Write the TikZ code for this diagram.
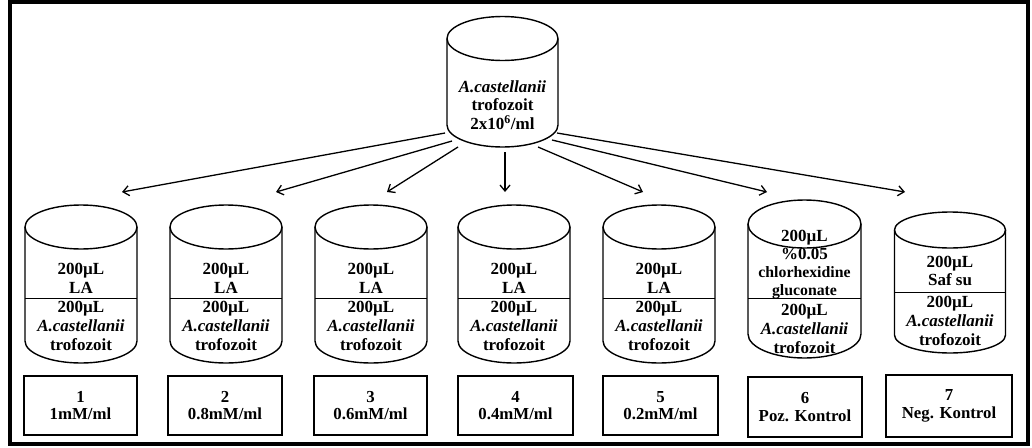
\documentclass[tikz,border=0pt]{standalone}
\usepackage{fontspec}
\setmainfont{Liberation Serif}
\usetikzlibrary{arrows.meta}
\newcommand\cylshape[5]{% cx, top-ellipse cy, bottom-ellipse cy, rx, ry
  \draw[cylline] (#1,#2) ellipse [x radius=#4pt, y radius=#5pt];
  \draw[cylline] (#1-#4,#2) -- (#1-#4,#3)
     arc[start angle=180, end angle=360, x radius=#4pt, y radius=#5pt] -- (#1+#4,#2);
}
\begin{document}
\begin{tikzpicture}[x=1pt,y=-1pt,
  cylline/.style={line width=1.4pt},
  txt/.style={font=\fontsize{17}{18.8}\selectfont\bfseries, align=center, inner sep=0pt},
  smalltxt/.style={font=\fontsize{15.8}{18}\selectfont\bfseries, align=center, inner sep=0pt},
  boxst/.style={draw, line width=1.4pt, font=\fontsize{16.8}{17.5}\selectfont\bfseries, align=center, inner sep=0pt, minimum height=59pt},
  arr/.style={line width=1.3pt, -{Straight Barb[length=6pt,width=10pt]}}]
\useasboundingbox (0,0) rectangle (1032,447);
\fill[white] (0,0) rectangle (1032,447);
\draw[line width=4.5pt] (10,2.2) rectangle (1028,444);

% top cylinder
\cylshape{502.5}{38.5}{125}{55.5}{22}
\node[txt] (top) at (502.5,105) {\textit{A.castellanii}\\trofozoit\\2x10\textsuperscript{6}/ml};

% bottom cylinders 1-5
\foreach \cx in {81,226,371,514,659}{
  \cylshape{\cx}{227}{341}{56}{22}
  \draw[line width=1pt] (\cx-56,298) -- (\cx+56,298);
}
\node[txt] (u1) at (81,278.5) {200µL\\LA};
\node[txt] (l1) at (81,326) {200µL\\\textit{A.castellanii}\\trofozoit};
\node[txt] (u2) at (226,278.5) {200µL\\LA};
\node[txt] (l2) at (226,326) {200µL\\\textit{A.castellanii}\\trofozoit};
\node[txt] (u3) at (371,278.5) {200µL\\LA};
\node[txt] (l3) at (371,326) {200µL\\\textit{A.castellanii}\\trofozoit};
\node[txt] (u4) at (514,278.5) {200µL\\LA};
\node[txt] (l4) at (514,326) {200µL\\\textit{A.castellanii}\\trofozoit};
\node[txt] (u5) at (659,278.5) {200µL\\LA};
\node[txt] (l5) at (659,326) {200µL\\\textit{A.castellanii}\\trofozoit};

% cylinder 6
\cylshape{804.5}{224}{334}{56.5}{24}
\draw[line width=1pt] (748,298) -- (861,298);
\node[smalltxt] (u6) at (804.5,264.5) {{\fontsize{17}{18}\selectfont 200µL}\\{\fontsize{17}{18}\selectfont\%0.05}\\chlorhexidine\\gluconate};
\node[txt] (l6) at (804.5,329) {200µL\\\textit{A.castellanii}\\trofozoit};

% cylinder 7
\cylshape{950}{230}{335}{55.5}{18}
\draw[line width=1pt] (894.5,292) -- (1005.5,292);
\node[txt] (u7) at (950,271) {200µL\\Saf su};
\node[txt] (l7) at (950,321) {200µL\\\textit{A.castellanii}\\trofozoit};

% boxes
\node[boxst, minimum width=113pt] (b1) at (80.5,405.5) {1\\1mM/ml};
\node[boxst, minimum width=114pt] (b2) at (225,405.5) {2\\0.8mM/ml};
\node[boxst, minimum width=113pt] (b3) at (370.5,405.5) {3\\0.6mM/ml};
\node[boxst, minimum width=115pt] (b4) at (515.5,405.5) {4\\0.4mM/ml};
\node[boxst, minimum width=115pt] (b5) at (660.5,405.5) {5\\0.2mM/ml};
\node[boxst, minimum width=114pt, minimum height=60pt] (b6) at (805,407) {6\\Poz. Kontrol};
\node[boxst, minimum width=126pt, minimum height=62pt] (b7) at (949,406) {7\\Neg. Kontrol};

% arrow coordinates
\coordinate (s1) at (445,133); \coordinate (e1) at (122,192);
\coordinate (s2) at (452,141); \coordinate (e2) at (276,192);
\coordinate (s3) at (458,147); \coordinate (e3) at (387,192);
\coordinate (s4) at (505,152); \coordinate (e4) at (505,192);
\coordinate (s5) at (538,147); \coordinate (e5) at (643,192);
\coordinate (s6) at (552,140); \coordinate (e6) at (767,192);
\coordinate (s7) at (557,133); \coordinate (e7) at (905,192);
\foreach \k in {1,...,7}{ \draw[arr] (s\k) -- (e\k); }
\end{tikzpicture}
\end{document}
